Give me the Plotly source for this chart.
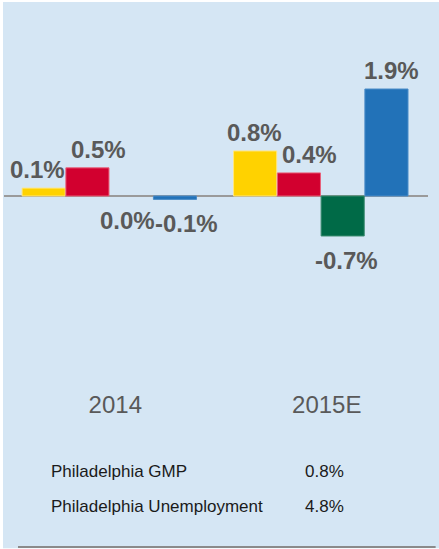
import plotly.graph_objects as go

# ---- data ----
categories = ["2014", "2015E"]
series_names = ["Series A", "Series B", "Series C", "Series D"]
values_2014 = [0.14, 0.50, 0.00, -0.06]
values_2015 = [0.80, 0.41, -0.71, 1.90]
table_labels = ["Philadelphia GMP", "Philadelphia Unemployment"]
table_values = ["0.8%", "4.8%"]

# ---- style ----
colors = ["#FFD200", "#D2002F", "#006A47", "#2272B8"]
edge_colors = ["#FFE680", "#E8607A", "#3A8A6E", "#4A8CC8"]
label_xshift = [[-6, 11, -4, 12], [-1, 11, 4, 5]]  # px nudges to avoid overlap
BG = "#d5e6f4"
GRAY = "#595959"
FONT = "Liberation Sans, Arial, sans-serif"

n = len(series_names)
BARGAP = 0.172
slot = (1 - BARGAP) / n
bar_w = slot * 0.985

xs = list(range(len(categories)))
data_by_series = [[values_2014[k], values_2015[k]] for k in range(n)]

fig = go.Figure()
annotations = []
for k in range(n):
    off = (k - (n - 1) / 2) * slot
    vals = data_by_series[k]
    fig.add_trace(go.Bar(
        x=xs, y=vals, name=series_names[k],
        width=bar_w, offset=off - bar_w / 2,
        marker=dict(color=colors[k],
                    line=dict(color=edge_colors[k],
                              width=[1 if v != 0 else 0 for v in vals])),
        showlegend=False, hoverinfo="skip",
    ))
    for i, v in enumerate(vals):
        pos = v > 0
        annotations.append(dict(
            x=xs[i] + off, y=v, xref="x", yref="y",
            text=f"{v:.1f}%", showarrow=False,
            yanchor="bottom" if pos else "top",
            yshift=3 if pos else -9,
            xshift=label_xshift[i][k],
            font=dict(family=FONT, size=24, color=GRAY, weight="bold"),
        ))

# table rows below the chart
row_y = [-0.228, -0.323]
for j in range(len(table_labels)):
    annotations.append(dict(x=0.106, y=row_y[j], xref="paper", yref="paper",
                            text=table_labels[j], showarrow=False,
                            xanchor="left", yanchor="middle",
                            font=dict(family=FONT, size=17, color="#1a1a1a")))
    annotations.append(dict(x=0.705, y=row_y[j], xref="paper", yref="paper",
                            text=table_values[j], showarrow=False,
                            xanchor="left", yanchor="middle",
                            font=dict(family=FONT, size=17, color="#1a1a1a")))

shapes = [
    dict(type="line", xref="paper", yref="paper", x0=0.033, x1=1.018,
         y0=-0.432, y1=-0.432, line=dict(color="#8a8a8a", width=2)),
    dict(type="rect", xref="paper", yref="paper", x0=-0.02, x1=1.05,
         y0=-0.4355, y1=-0.47, line=dict(width=0), fillcolor="white"),
]

fig.update_layout(
    width=436, height=547,
    margin=dict(l=1, r=11, t=18, b=161),
    paper_bgcolor=BG, plot_bgcolor=BG,
    barmode="overlay",
    annotations=annotations, shapes=shapes,
    xaxis=dict(range=[-0.498, 1.507], tickvals=xs, ticktext=categories,
               showgrid=False, zeroline=False, showline=False, ticks="",
               ticklabelshift=6,
               tickfont=dict(family=FONT, size=24, color=GRAY)),
    yaxis=dict(range=[-3.41, 3.126], showgrid=False, showticklabels=False,
               zeroline=True, zerolinecolor="#9a9a9a", zerolinewidth=1.5,
               showline=False),
)

fig.write_html("out.html",
               post_script="document.body.style.margin='2px 0 0 3px';"
                           "document.body.style.overflow='hidden';")
